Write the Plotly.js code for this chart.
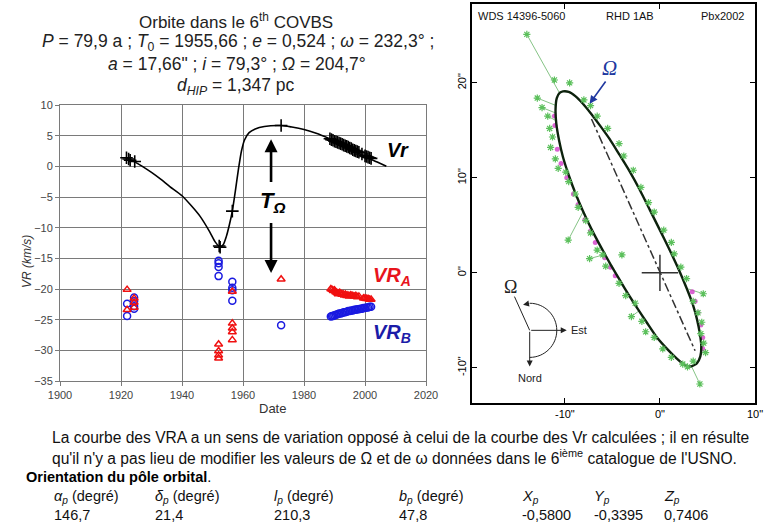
<!DOCTYPE html>
<html><head><meta charset="utf-8">
<script src="https://cdn.plot.ly/plotly-3.0.1.min.js"></script>
<style>html,body{margin:0;padding:0;background:#fff}#chart{width:765px;height:524px}</style>
</head><body><div id="chart"></div>
<script>
// ---------- Left chart: radial velocities ----------
const vrCurveDate = [1921.5,1924,1927,1930,1933,1936,1940,1943,1946,1949,1951,1952.5,1953.5,1954.5,1955.5,1956.5,1957.5,1958.5,1959.5,1960.5,1962,1964,1967,1972.5,1976,1980,1984,1988,1992,1996,2000,2004,2007];
const vrCurveVal  = [1.45,0.85,0.0,-1.0,-2.1,-3.3,-4.8,-6.4,-8.2,-10.6,-12.4,-13.2,-12.8,-11.5,-9.6,-7.3,-4.0,-0.5,2.5,4.3,5.5,6.1,6.5,6.65,6.4,6.0,5.4,4.6,3.7,2.7,1.6,0.7,0.0];

const vrObsDate = [1921.8,1922.5,1923,1924.5,1952.2,1952.5,1956.5,1972.5,1988.5,1989,1989.5,1990,1990.5,1991,1991.5,1992,1992.5,1993,1993.5,1994,1994.5,1995,1995.5,1996,1996.5,1997,1997.5,1998,1999,2000,2000.5,2001,2001.5,2002];
const vrObsVal  = [1.4,1.2,1.0,0.8,-13.0,-13.2,-7.3,6.65,4.5,4.35,4.25,4.1,4.0,3.9,3.8,3.7,3.6,3.45,3.35,3.25,3.15,3.0,2.9,2.7,2.6,2.5,2.4,2.3,2.0,1.7,1.6,1.5,1.4,1.3];

const vraDate = [1922,1922,1924.3,1924.3,1924.3,1952,1952,1952,1952,1956.5,1956.5,1956.5,1956.5,1956.5,1972.5,
  1988.8,1989.2,1989.6,1990,1990.4,1990.8,1991.2,1991.6,1992,1992.4,1992.8,1993.2,1993.6,1994,1994.4,1994.8,1995.2,1995.6,1996,1996.5,1997,1997.5,1998,1999.5,2000,2000.5,2001,2001.5,2002];
const vraVal  = [-20.1,-23.4,-21.5,-22.2,-23.0,-29.0,-30.1,-30.8,-31.3,-20.4,-25.6,-26.4,-27.0,-28.3,-18.4,
  -20.0,-20.1,-20.3,-20.2,-20.5,-20.6,-20.8,-20.6,-20.7,-20.9,-20.8,-21.0,-20.9,-21.1,-21.0,-21.2,-21.0,-21.1,-21.1,-21.2,-21.1,-21.3,-21.2,-21.5,-21.5,-21.6,-21.6,-21.7,-21.7];

const vrbDate = [1922,1922,1924.3,1924.3,1924.3,1924.3,1952,1952,1952,1952,1956.5,1956.5,1956.5,1956.5,1972.5,
  1988.8,1989.2,1989.6,1990,1990.5,1991,1991.5,1992,1992.5,1993,1993.5,1994,1994.5,1995,1995.5,1996,1996.5,1997,1997.5,1998,1998.5,1999,1999.5,2000,2000.5,2001,2001.5,2002];
const vrbVal  = [-22.4,-24.4,-21.4,-22.0,-22.8,-23.2,-15.4,-15.8,-16.4,-17.9,-18.8,-19.8,-20.2,-21.9,-25.9,
  -24.5,-24.4,-24.4,-24.3,-24.2,-24.1,-24.0,-24.0,-23.9,-23.8,-23.8,-23.7,-23.6,-23.6,-23.5,-23.5,-23.4,-23.4,-23.3,-23.3,-23.2,-23.2,-23.1,-23.1,-23.0,-23.0,-22.9,-22.9];

const xTicksLeft = [1900,1920,1940,1960,1980,2000,2020];
const yTicksLeft = [10,5,0,-5,-10,-15,-20,-25,-30,-35];

// ---------- Right chart: apparent orbit ----------
const orbitX = [-10.2,-9.6,-8.9,-8.1,-7.2,-6.3,-5.3,-4.3,-3.2,-2.1,-1.05,0.0,1.05,2.0,2.8,3.45,3.9,4.2,4.35,4.25,3.9,3.3,2.6,1.75,0.7,-0.35,-1.4,-2.3,-3.2,-4.2,-5.2,-6.2,-7.2,-8.1,-8.9,-9.6,-10.2,-10.6,-10.9,-10.98,-10.85,-10.55,-10.2];
const orbitY = [19.1,19.05,18.6,17.8,16.7,15.5,14.1,12.5,10.7,8.7,6.6,4.5,2.35,0.3,-1.6,-3.3,-4.9,-6.4,-7.7,-8.8,-9.5,-9.85,-9.7,-9.0,-7.95,-6.75,-5.2,-3.85,-2.45,-0.8,0.9,2.7,4.6,6.5,8.4,10.3,12.2,13.9,15.7,17.2,18.4,18.95,19.1];

const obsX = [-14.0,-11.1,-9.5,-12.9,-12.4,-11.8,-11.6,-11.3,-11.5,-11.0,-10.7,-8.0,-7.3,-6.6,-5.5,-4.3,-3.8,-2.8,-2.0,-1.2,-0.6,0.4,1.2,1.5,2.2,2.8,4.56,3.5,4.0,4.4,4.3,4.6,4.8,4.2,3.5,2.9,2.4,1.2,0.3,-0.6,-1.5,-1.9,-3.0,-2.6,-3.6,-4.3,-4.0,-6.0,-7.4,-5.7,-6.6,-7.3,-7.8,-8.6,-9.65,-8.9,-9.6,-9.9];
const obsY = [25.1,20.3,20.0,18.4,17.4,16.5,15.2,14.3,13.2,12.0,11.0,18.2,17.6,16.5,15.2,13.6,12.3,10.8,9.0,7.4,6.4,4.5,3.2,2.0,0.6,-0.6,-2.2,-3.0,-4.2,-5.2,-6.4,-7.4,-8.4,-11.7,-9.3,-9.9,-9.6,-8.9,-8.0,-6.8,-6.2,-5.1,-4.6,-3.2,-2.4,-1.1,1.9,1.9,1.5,0.7,2.4,4.2,5.5,6.9,3.45,8.3,9.6,10.6];

const resX = [-14.0,-10.6,null,-9.65,-8.1,null,-7.4,-5.9,null,4.56,3.0,null,4.2,3.3,null,-12.9,-10.9,null,-12.4,-10.9,null,-11.8,-10.9,null,-3.0,-2.2,null,4.8,4.35];
const resY = [25.1,19.0,null,3.45,6.4,null,1.5,1.9,null,-2.2,-1.7,null,-11.7,-9.8,null,18.4,17.6,null,17.4,16.8,null,16.5,16.0,null,-4.6,-4.0,null,-8.4,-8.1];

const calcX = [-11.1,-11.05,-10.8,-10.4,-9.8,-9.1,-8.6,-7.9,-7.3,-6.8,-5.8,-5.2,-4.7,3.4,3.7,4.0,4.3,4.5,4.5];
const calcY = [16.5,15.5,13.0,11.5,10.0,8.3,7.2,5.6,4.4,3.2,1.6,0.6,-0.3,-2.0,-3.0,-4.2,-5.5,-6.8,-8.0];

const nodeX = [-7.2,3.7];
const nodeY = [16.2,-8.2];

const xTicksRight = [-10,0,10];
const xTickTextRight = ['-10"','0"','10"'];
const yTicksRight = [-10,0,10,20];
const yTickTextRight = ['-10"','0"','10"','20"'];

const FONT = 'Arial, "Liberation Sans", sans-serif';
const W = 765, H = 524;
const px = v => v / W;
const py = v => 1 - v / H;

const traces = [
  {x: vrCurveDate, y: vrCurveVal, type:'scatter', mode:'lines', line:{color:'#000', width:1.6, shape:'spline', smoothing:0.7}, xaxis:'x', yaxis:'y', hoverinfo:'skip'},
  {x: vrObsDate, y: vrObsVal, type:'scatter', mode:'markers', marker:{symbol:'cross-thin', size:9, color:'#000', line:{width:1.6, color:'#000'}}, xaxis:'x', yaxis:'y'},
  {x: vrbDate, y: vrbVal, type:'scatter', mode:'markers', marker:{symbol:'circle-open', size:7, line:{width:1.5, color:'#1a1ae0'}, color:'#1a1ae0'}, xaxis:'x', yaxis:'y'},
  {x: vraDate, y: vraVal, type:'scatter', mode:'markers', marker:{symbol:'triangle-up-open', size:7, line:{width:1.5, color:'#f01010'}, color:'#f01010'}, xaxis:'x', yaxis:'y'},
  // right
  {x: resX, y: resY, type:'scatter', mode:'lines', line:{color:'#86c486', width:1}, xaxis:'x2', yaxis:'y2', connectgaps:false},
  {x: calcX, y: calcY, type:'scatter', mode:'markers', marker:{symbol:'circle', size:5, color:'rgba(210,60,200,0.8)'}, xaxis:'x2', yaxis:'y2'},
  {x: orbitX, y: orbitY, type:'scatter', mode:'lines', line:{color:'#0d220d', width:2.4, shape:'spline', smoothing:0.6}, xaxis:'x2', yaxis:'y2'},
  {x: obsX, y: obsY, type:'scatter', mode:'markers', marker:{symbol:'asterisk-open', size:6, color:'#5cc05c', line:{width:1.2, color:'#5cc05c'}}, xaxis:'x2', yaxis:'y2'},
  {x: nodeX, y: nodeY, type:'scatter', mode:'lines', line:{color:'#333', width:1.5, dash:'dashdot'}, xaxis:'x2', yaxis:'y2'},
  {x: [0], y: [0], type:'scatter', mode:'markers', marker:{symbol:'cross-thin', size:26, color:'#333', line:{width:1.5, color:'#333'}}, xaxis:'x2', yaxis:'y2'}
];

const ann = [];
function T(text, x, y, size, opts) {
  ann.push(Object.assign({text, x, y, xref:'paper', yref:'paper', showarrow:false, font:{family:FONT, size, color:'#222'}, xanchor:'center', yanchor:'middle'}, opts||{}));
}
// Title block
T('Orbite dans le 6<sup>th</sup> COVBS', px(236), py(21), 17);
T('<i>P</i> = 79,9 a ; <i>T</i><sub>0</sub> = 1955,66 ; <i>e</i> = 0,524 ; <i>ω</i> = 232,3° ;', px(238), py(43), 17.5);
T('<i>a</i> = 17,66" ; <i>i</i> = 79,3° ; <i>Ω</i> = 204,7°', px(237), py(64), 17.5);
T('<i>d</i><sub><i>HIP</i></sub> = 1,347 pc', px(235), py(86), 17.5);
// Axis titles (left)
T('<i>VR (km/s)</i>', px(27), py(262), 12, {textangle:-90, font:{family:FONT, size:12, color:'#333'}});
T('Date', px(272), py(408), 13, {font:{family:FONT, size:13, color:'#333'}});
// Right header
T('WDS 14396-5060', px(521), py(16), 11, {font:{family:FONT, size:11, color:'#111'}});
T('RHD 1AB', px(630), py(16), 11, {font:{family:FONT, size:11, color:'#111'}});
T('Pbx2002', px(722), py(16), 11, {font:{family:FONT, size:11, color:'#111'}});
// Bottom text
T('La courbe des VRA a un sens de variation opposé à celui de la courbe des Vr calculées ; il en résulte', px(50), py(437), 15.6, {xanchor:'left', font:{family:FONT, size:15.6, color:'#111'}});
T('qu\'il n\'y a pas lieu de modifier les valeurs de Ω et de ω données dans le 6<sup>ième</sup> catalogue de l\'USNO.', px(50), py(457), 15.6, {xanchor:'left', font:{family:FONT, size:15.6, color:'#111'}});
T('<b>Orientation du pôle orbital</b>.', px(24), py(477), 14.5, {xanchor:'left', font:{family:FONT, size:14.5, color:'#000'}});
const hdr = ['<i>α</i><sub><i>p</i></sub> (degré)', '<i>δ</i><sub><i>p</i></sub> (degré)', '<i>l</i><sub><i>p</i></sub> (degré)', '<i>b</i><sub><i>p</i></sub> (degré)', '<i>X</i><sub><i>p</i></sub>', '<i>Y</i><sub><i>p</i></sub>', '<i>Z</i><sub><i>p</i></sub>'];
const vals = ['146,7','21,4','210,3','47,8','-0,5800','-0,3395','0,7406'];
const colX = [52,153,272,397,520,592,662];
hdr.forEach((h,i)=>T(h, px(colX[i]), py(497), 14.5, {xanchor:'left', font:{family:FONT, size:14.5, color:'#111'}}));
vals.forEach((v,i)=>T(v, px(colX[i]), py(515), 14.5, {xanchor:'left', font:{family:FONT, size:14.5, color:'#111'}}));

// Left chart labels & arrows
ann.push({text:'<b><i>Vr</i></b>', x:2010.8, y:2.7, xref:'x', yref:'y', showarrow:false, font:{family:FONT, size:20, color:'#000'}});
ann.push({text:'<b><i>VR<sub>A</sub></i></b>', x:2009, y:-18.0, xref:'x', yref:'y', showarrow:false, font:{family:FONT, size:20, color:'#e8141c'}});
ann.push({text:'<b><i>VR<sub>B</sub></i></b>', x:2009, y:-27.3, xref:'x', yref:'y', showarrow:false, font:{family:FONT, size:20, color:'#1c1ca8'}});
ann.push({text:'<b><i>T<sub>Ω</sub></i></b>', x:1969.6, y:-5.8, xref:'x', yref:'y', showarrow:false, font:{family:FONT, size:22, color:'#000'}});
ann.push({text:'', x:1969.2, y:4.4, ax:1969.2, ay:-2.8, xref:'x', yref:'y', axref:'x', ayref:'y', showarrow:true, arrowhead:2, arrowsize:1, arrowwidth:2.6, arrowcolor:'#000'});
ann.push({text:'', x:1969.2, y:-17.4, ax:1969.2, ay:-9.0, xref:'x', yref:'y', axref:'x', ayref:'y', showarrow:true, arrowhead:2, arrowsize:1, arrowwidth:2.6, arrowcolor:'#000'});

// Right chart: Omega label and arrow
ann.push({text:'<i>Ω</i>', x:-5.3, y:21.6, xref:'x2', yref:'y2', showarrow:false, font:{family:'"Liberation Serif", "DejaVu Serif", serif', size:21, color:'#2038a0'}});
ann.push({text:'', x:-7.4, y:17.8, ax:-5.6, ay:20.3, xref:'x2', yref:'y2', axref:'x2', ayref:'y2', showarrow:true, arrowhead:2, arrowsize:1, arrowwidth:1.6, arrowcolor:'#2038a0'});
// Compass
const cx = -13.7, cy = -6.05;
ann.push({text:'', x:-9.8, y:cy, ax:cx, ay:cy, xref:'x2', yref:'y2', axref:'x2', ayref:'y2', showarrow:true, arrowhead:2, arrowsize:1.2, arrowwidth:1, arrowcolor:'#222'});
ann.push({text:'', x:cx, y:-9.85, ax:cx, ay:cy, xref:'x2', yref:'y2', axref:'x2', ayref:'y2', showarrow:true, arrowhead:2, arrowsize:1.2, arrowwidth:1, arrowcolor:'#222'});
ann.push({text:'', x:-14.4, y:-3.35, ax:-13.6, ay:-3.2, xref:'x2', yref:'y2', axref:'x2', ayref:'y2', showarrow:true, arrowhead:2, arrowsize:1.2, arrowwidth:1, arrowcolor:'#222'});
ann.push({text:'Est', x:-9.6, y:cy, xref:'x2', yref:'y2', showarrow:false, xanchor:'left', font:{family:FONT, size:11, color:'#222'}});
ann.push({text:'Nord', x:cx, y:-11.1, xref:'x2', yref:'y2', showarrow:false, font:{family:FONT, size:11, color:'#222'}});
ann.push({text:'Ω', x:-15.7, y:-1.5, xref:'x2', yref:'y2', showarrow:false, font:{family:'"Liberation Serif", "DejaVu Serif", serif', size:18, color:'#222'}});

const shapes = [
  {type:'line', xref:'x2', yref:'y2', x0:cx, y0:cy, x1:-15.3, y1:-2.5, line:{color:'#222', width:1}},
  {type:'path', xref:'x2', yref:'y2', path:`M -13.7 -3.2 C -12.126 -3.2 -10.85 -4.476 -10.85 -6.05 C -10.85 -7.624 -12.126 -8.9 -13.7 -8.9`, line:{color:'#222', width:1}}
];

const axL = {showgrid:true, gridcolor:'#7a7a7a', gridwidth:1, showline:true, linecolor:'#7a7a7a', linewidth:1, mirror:true, ticks:'outside', ticklen:4, tickcolor:'#7a7a7a', zeroline:false, tickfont:{family:FONT, size:11, color:'#444'}};
const layout = {
  width:W, height:H, margin:{l:0,r:0,t:0,b:0}, paper_bgcolor:'#fff', plot_bgcolor:'#fff', showlegend:false,
  xaxis: Object.assign({}, axL, {domain:[px(60), px(426)], range:[1900,2020], tickvals:xTicksLeft, anchor:'y'}),
  yaxis: Object.assign({}, axL, {domain:[py(381), py(105)], range:[-35,10], tickvals:yTicksLeft, anchor:'x'}),
  xaxis2: {domain:[px(471.7), px(755)], range:[-19.8,10], tickvals:xTicksRight, ticktext:xTickTextRight, showgrid:false, zeroline:false, showline:true, linecolor:'#000', linewidth:1.6, mirror:'ticks', ticks:'inside', ticklen:5, tickcolor:'#000', anchor:'y2', tickfont:{family:FONT, size:11, color:'#000'}},
  yaxis2: {domain:[py(403), py(4)], range:[-13.7,28.3], tickvals:yTicksRight, ticktext:yTickTextRight, tickangle:-90, showgrid:false, zeroline:false, showline:true, linecolor:'#000', linewidth:1.6, mirror:'ticks', ticks:'inside', ticklen:5, tickcolor:'#000', anchor:'x2', tickfont:{family:FONT, size:11, color:'#000'}},
  annotations: ann, shapes: shapes
};
Plotly.newPlot('chart', traces, layout, {staticPlot:true, displayModeBar:false});
</script></body></html>
